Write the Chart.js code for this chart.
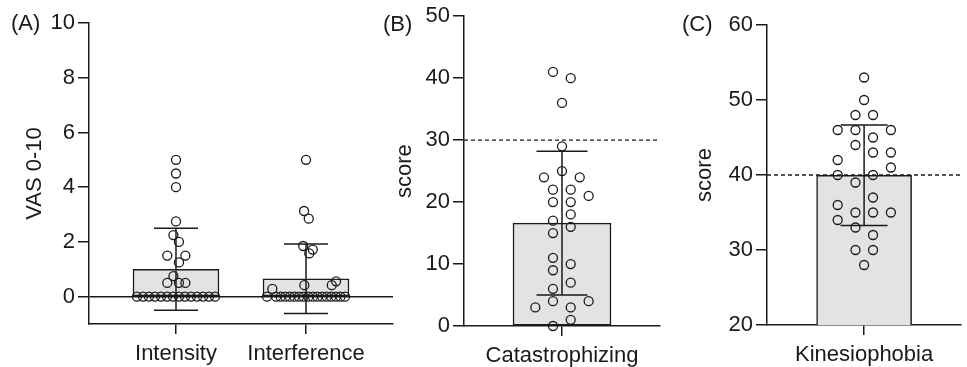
<!DOCTYPE html>
<html>
<head>
<meta charset="utf-8">
<title>VAS, catastrophizing and kinesiophobia</title>
<script src="https://cdn.jsdelivr.net/npm/chart.js@4.4.1/dist/chart.umd.min.js"></script>
<style>
  body { margin: 0; background: #fff; width: 967px; height: 367px; position: relative; overflow: hidden;
         font-family: 'Liberation Sans', Arial, sans-serif; }
  .panel { position: absolute; top: 0; height: 367px; }
  .tag { position: absolute; font-size: 22px; line-height: 26px; color: #1a1a1a; }
</style>
</head>
<body>
<div class="panel" style="left:0;width:400px"><canvas id="chartA"></canvas></div>
<div class="panel" style="left:380px;width:287px"><canvas id="chartB"></canvas></div>
<div class="panel" style="left:660px;width:307px"><canvas id="chartC"></canvas></div>
<div class="tag" style="left:11px;top:10px">(A)</div>
<div class="tag" style="left:383px;top:11px">(B)</div>
<div class="tag" style="left:682px;top:11px">(C)</div>

<script>
// ---- panel A: VAS 0-10 ----
const vasLabels = ['Intensity', 'Interference'];
const vasMeans = [1.0, 0.65];
const vasSDs = [1.5, 1.27];
const vasTicks = [0, 2, 4, 6, 8, 10];

const intensityValues = [5, 4.5, 4, 2.75, 2.25, 2, 1.5, 1.5, 1.25, 0.75, 0.5, 0.5, 0.5,
  0, 0, 0, 0, 0, 0, 0, 0, 0, 0, 0, 0, 0, 0];
const intensityJitter = [0, 0, 0, 0, -0.02, 0.023, -0.067, 0.072, 0.023, -0.02, -0.067, 0.023, 0.072,
  -0.3, -0.254, -0.208, -0.162, -0.115, -0.069, -0.023, 0.023, 0.069, 0.115, 0.162, 0.208, 0.254, 0.3];

const interferenceValues = [5, 3.13, 2.85, 1.85, 1.72, 1.58, 0.42, 0.42, 0.56, 0.28,
  0, 0, 0, 0, 0, 0, 0, 0, 0, 0, 0, 0, 0, 0, 0, 0, 0];
const interferenceJitter = [0, -0.015, 0.021, -0.021, 0.052, 0.025, -0.013, 0.198, 0.231, -0.259,
  -0.3, -0.23, -0.195, -0.159, -0.124, -0.089, -0.053, -0.018, 0.018, 0.053, 0.088, 0.124, 0.159, 0.194, 0.23, 0.265, 0.3];

// ---- panel B: catastrophizing ----
const catLabels = ['Catastrophizing'];
const catMean = 16.6;
const catSD = 11.6;
const catCutoff = 30;
const catTicks = [0, 10, 20, 30, 40, 50];
const catValues = [41, 40, 36, 29, 25, 24, 24, 22, 22, 21, 20, 20, 18, 17, 16, 15, 11, 10, 9, 7, 6, 4, 4, 3, 3, 1, 0];
const catJitter = [-0.092, 0.089, 0, 0, 0, -0.184, 0.181, -0.092, 0.089, 0.272, -0.092, 0.089, 0.089, -0.092,
  0.089, -0.092, -0.092, 0.089, -0.092, 0.089, -0.092, -0.092, 0.272, -0.272, 0.089, 0.089, -0.092];

// ---- panel C: kinesiophobia ----
const kinLabels = ['Kinesiophobia'];
const kinMean = 39.96;
const kinSD = 6.7;
const kinCutoff = 40;
const kinTicks = [20, 30, 40, 50, 60];
const kinValues = [53, 50, 48, 48, 46, 46, 46, 45, 44, 43, 43, 42, 41, 40, 40, 39, 37, 36, 35, 35, 35, 34, 33, 32, 30, 30, 28];
const kinJitter = [0, 0, -0.089, 0.092, -0.272, -0.089, 0.276, 0.092, -0.089, 0.092, 0.276, -0.272, 0.276, -0.272,
  0.092, -0.089, 0.092, -0.272, -0.089, 0.092, 0.276, -0.272, -0.089, 0.092, -0.089, 0.092, 0];

const ink = '#1a1a1a';
const barFill = '#e3e3e3';
const fontFamily = "'Liberation Sans', Arial, sans-serif";

// draws mean +/- SD whiskers through the chart's own scales
const errorBarPlugin = {
  id: 'errorBars',
  beforeDatasetDraw(chart, args, opts) {
    if (args.index !== 0) return; // right after the bars
  },
  afterDatasetDraw(chart, args, opts) {
    if (args.index !== 0) return;
    const { ctx, scales: { x, y } } = chart;
    ctx.save();
    ctx.strokeStyle = ink;
    ctx.lineWidth = 1.5;
    opts.means.forEach((m, i) => {
      const px = x.getPixelForValue(i + 1);
      const top = y.getPixelForValue(m + opts.sds[i]);
      const bot = y.getPixelForValue(m - opts.sds[i]);
      ctx.beginPath();
      ctx.moveTo(px, top); ctx.lineTo(px, bot);
      ctx.moveTo(px - opts.cap, top); ctx.lineTo(px + opts.cap, top);
      ctx.moveTo(px - opts.cap, bot); ctx.lineTo(px + opts.cap, bot);
      ctx.stroke();
    });
    ctx.restore();
  }
};

// dashed cut-off line
const cutoffPlugin = {
  id: 'cutoff',
  afterDatasetsDraw(chart, args, opts) {
    if (opts.value == null) return;
    const { ctx, chartArea, scales: { y } } = chart;
    const py = y.getPixelForValue(opts.value);
    ctx.save();
    ctx.strokeStyle = ink;
    ctx.lineWidth = 1.3;
    ctx.setLineDash([4, 3]);
    ctx.beginPath();
    ctx.moveTo(chartArea.left, py);
    ctx.lineTo(chartArea.right, py);
    ctx.stroke();
    ctx.restore();
  }
};

function makePanel(id, cfg) {
  const font = { size: 22, family: fontFamily };
  const datasets = [{
    type: 'bar',
    order: 1,
    data: cfg.means.map((m, i) => ({ x: i + 1, y: m })),
    backgroundColor: barFill,
    borderColor: ink,
    borderWidth: 1.5,
    borderSkipped: false,
    barThickness: cfg.barWidth
  }];
  cfg.points.forEach((p, i) => {
    datasets.push({
      type: 'scatter',
      order: 0,
      data: p.values.map((v, j) => ({ x: i + 1 + p.jitter[j], y: v })),
      pointRadius: 4.5,
      pointBorderWidth: 1.3,
      pointBackgroundColor: 'rgba(0,0,0,0)',
      pointBorderColor: ink,
      clip: false
    });
  });

  return new Chart(document.getElementById(id), {
    type: 'bar',
    data: { datasets },
    plugins: [errorBarPlugin, cutoffPlugin],
    options: {
      responsive: true,
      maintainAspectRatio: false,
      animation: false,
      layout: { padding: cfg.padding },
      plugins: {
        legend: { display: false },
        tooltip: { enabled: false },
        errorBars: { means: cfg.means, sds: cfg.sds, cap: cfg.cap },
        cutoff: { value: cfg.cutoff }
      },
      scales: {
        x: {
          type: 'linear',
          offset: false,
          min: cfg.xMin,
          max: cfg.xMax,
          afterBuildTicks: s => { s.ticks = cfg.labels.map((_, i) => ({ value: i + 1 })); },
          afterFit: s => { s.height = cfg.xHeight; },
          border: { display: true, color: ink, width: 1.5 },
          grid: { offset: false, drawOnChartArea: false, color: ink, tickColor: ink, tickLength: 10, lineWidth: 1.5 },
          ticks: { color: ink, font, padding: 7, maxRotation: 0, autoSkip: false,
                   callback: (v, i) => cfg.labels[i] }
        },
        y: {
          min: cfg.yMin,
          max: cfg.yMax,
          afterBuildTicks: s => { s.ticks = cfg.yTicks.map(v => ({ value: v })); },
          afterFit: s => { s.width = cfg.yWidth; },
          border: { display: true, color: ink, width: 1.5 },
          grid: {
            drawOnChartArea: cfg.zeroLine,
            color: c => (c.tick && c.tick.value === 0 ? ink : 'rgba(0,0,0,0)'),
            tickColor: ink,
            tickLength: 11,
            lineWidth: 1.5
          },
          ticks: { color: ink, font, padding: 3 },
          title: { display: true, text: cfg.yTitle, color: ink, font, padding: { top: cfg.titlePad, bottom: 0 } }
        }
      }
    }
  });
}

makePanel('chartA', {
  labels: vasLabels, means: vasMeans, sds: vasSDs, cap: 22, barWidth: 86,
  points: [{ values: intensityValues, jitter: intensityJitter },
           { values: interferenceValues, jitter: interferenceJitter }],
  xMin: 0.331, xMax: 2.669, yMin: -1, yMax: 10, yTicks: vasTicks,
  yTitle: 'VAS 0-10', titlePad: 22, yWidth: 89, xHeight: 43, zeroLine: true,
  padding: { top: 23, right: 7, left: 0, bottom: 0 }
});

makePanel('chartB', {
  labels: catLabels, means: [catMean], sds: [catSD], cap: 25.5, barWidth: 98,
  points: [{ values: catValues, jitter: catJitter }],
  xMin: 0, xMax: 2, yMin: 0, yMax: 50, yTicks: catTicks, cutoff: catCutoff,
  yTitle: 'score', titlePad: 12, yWidth: 84, xHeight: 41, zeroLine: false,
  padding: { top: 16, right: 7, left: 0, bottom: 0 }
});

makePanel('chartC', {
  labels: kinLabels, means: [kinMean], sds: [kinSD], cap: 23.5, barWidth: 95,
  points: [{ values: kinValues, jitter: kinJitter }],
  xMin: 0, xMax: 2, yMin: 20, yMax: 60, yTicks: kinTicks, cutoff: kinCutoff,
  yTitle: 'score', titlePad: 32, yWidth: 107, xHeight: 42, zeroLine: false,
  padding: { top: 25, right: 4, left: 0, bottom: 0 }
});
</script>
</body>
</html>
